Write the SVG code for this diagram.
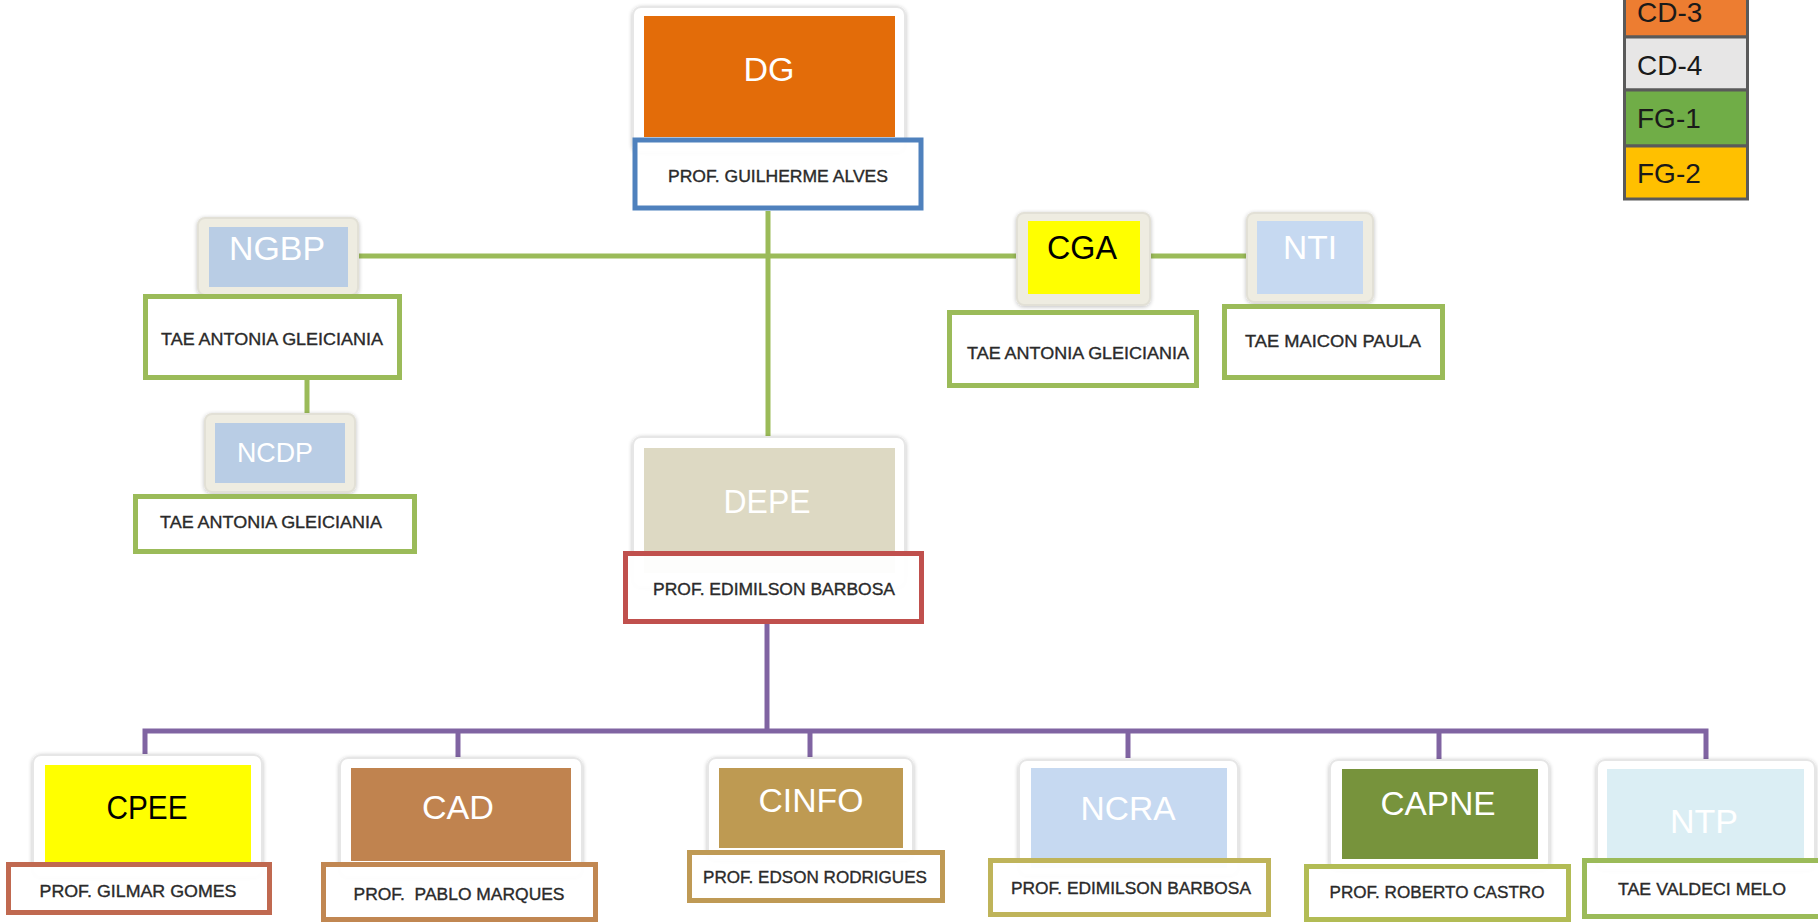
<svg xmlns="http://www.w3.org/2000/svg" width="1818" height="923" viewBox="0 0 1818 923">
<defs>
<filter id="sh" x="-10%" y="-10%" width="120%" height="130%">
<feGaussianBlur in="SourceAlpha" stdDeviation="2"/>
<feOffset dx="0" dy="1" result="b"/>
<feComponentTransfer><feFuncA type="linear" slope="0.25"/></feComponentTransfer>
<feMerge><feMergeNode/><feMergeNode in="SourceGraphic"/></feMerge>
</filter>
</defs>
<style>
.frame{fill:#ffffff;stroke:#e6e6e6;stroke-width:2;filter:url(#sh)}
.bframe{fill:#EEECE1;stroke:#e2e0d6;stroke-width:2;filter:url(#sh)}
.box{fill:#ffffff;fill-opacity:0.94;stroke-width:5}
.title{font-family:"Liberation Sans",Arial,sans-serif;font-size:34px;text-anchor:middle}
.w{fill:#ffffff}
.k{fill:#000000}
.lbl{font-family:"Liberation Sans",Arial,sans-serif;font-size:17px;fill:#2a2a2a;stroke:#2a2a2a;stroke-width:0.35;text-anchor:middle}
.gl{fill:none;stroke:#9BBB59;stroke-width:5}
.pl{fill:none;stroke:#8064A2;stroke-width:5}
.leg{stroke:#5a5a5a;stroke-width:3}
.legt{font-family:"Liberation Sans",Arial,sans-serif;font-size:28px;fill:#1a1a1a}
</style>
<rect width="1818" height="923" fill="#ffffff"/>

<g id="connectors">
<path class="gl" d="M768 211 V437"/>
<path class="gl" d="M358 256 H1017"/>
<path class="gl" d="M1150 256 H1247"/>
<path class="gl" d="M307 380 V414"/>
<path class="pl" d="M767 624 V731"/>
<path class="pl" d="M145 758 V731 H1706 V759"/>
<path class="pl" d="M458 731 V758"/>
<path class="pl" d="M810 731 V758"/>
<path class="pl" d="M1128 731 V758"/>
<path class="pl" d="M1439 731 V759"/>
</g>

<g id="legend">
<rect class="leg" x="1624.5" y="-17" width="123" height="54" fill="#ED7D31"/>
<text class="legt" x="1637" y="22">CD-3</text>
<rect class="leg" x="1624.5" y="37" width="123" height="53" fill="#E7E6E6"/>
<text class="legt" x="1637" y="75">CD-4</text>
<rect class="leg" x="1624.5" y="90" width="123" height="56" fill="#70AD47"/>
<text class="legt" x="1637" y="128">FG-1</text>
<rect class="leg" x="1624.5" y="146" width="123" height="53" fill="#FFC000"/>
<text class="legt" x="1637" y="183">FG-2</text>
</g>

<g id="node-dg">
<rect class="frame" x="633" y="7" width="272" height="145" rx="8"/>
<rect x="644" y="16" width="251" height="121" fill="#E36C09"/>
<text class="title w" x="769" y="81" textLength="51" lengthAdjust="spacingAndGlyphs">DG</text>
<rect class="box" x="635" y="140" width="286" height="68" stroke="#4F81BD" stroke-width="6"/>
<text class="lbl" x="778" y="182" textLength="220" lengthAdjust="spacingAndGlyphs">PROF. GUILHERME ALVES</text>
</g>

<g id="node-ngbp">
<rect class="bframe" x="198" y="218" width="160" height="77" rx="7"/>
<rect x="209" y="227" width="139" height="60" fill="#B9CDE5"/>
<text class="title w" x="277" y="260" textLength="96" lengthAdjust="spacingAndGlyphs">NGBP</text>
<rect class="box" x="145.5" y="296.5" width="254" height="81" stroke="#9BBB59"/>
<text class="lbl" x="272" y="345" textLength="222" lengthAdjust="spacingAndGlyphs">TAE ANTONIA GLEICIANIA</text>
</g>

<g id="node-ncdp">
<rect class="bframe" x="205" y="414" width="150" height="78" rx="7"/>
<rect x="215" y="423" width="130" height="60" fill="#B9CDE5"/>
<text class="title w" x="275" y="462" style="font-size:28px" textLength="76" lengthAdjust="spacingAndGlyphs">NCDP</text>
<rect class="box" x="135.5" y="496.5" width="279" height="55" stroke="#9BBB59"/>
<text class="lbl" x="271" y="528" textLength="222" lengthAdjust="spacingAndGlyphs">TAE ANTONIA GLEICIANIA</text>
</g>

<g id="node-cga">
<rect class="bframe" x="1017" y="213" width="133" height="92" rx="7"/>
<rect x="1028" y="221" width="112" height="73" fill="#FFFF00"/>
<text class="title k" x="1082" y="259" textLength="70" lengthAdjust="spacingAndGlyphs">CGA</text>
<rect class="box" x="949.5" y="312.5" width="247" height="73" stroke="#9BBB59"/>
<text class="lbl" x="1078" y="359" textLength="222" lengthAdjust="spacingAndGlyphs">TAE ANTONIA GLEICIANIA</text>
</g>

<g id="node-nti">
<rect class="bframe" x="1247" y="213" width="126" height="89" rx="7"/>
<rect x="1257" y="221" width="106" height="73" fill="#C6D9F1"/>
<text class="title w" x="1310" y="259" textLength="54" lengthAdjust="spacingAndGlyphs">NTI</text>
<rect class="box" x="1224.5" y="306.5" width="218" height="71" stroke="#9BBB59"/>
<text class="lbl" x="1333" y="347" textLength="176" lengthAdjust="spacingAndGlyphs">TAE MAICON PAULA</text>
</g>

<g id="node-depe">
<rect class="frame" x="633" y="437" width="272" height="150" rx="8"/>
<rect x="644" y="448" width="251" height="125" fill="#DDD9C3"/>
<text class="title w" x="767" y="513" textLength="87" lengthAdjust="spacingAndGlyphs">DEPE</text>
<rect class="box" x="625.5" y="553.5" width="296" height="68" stroke="#C0504D"/>
<text class="lbl" x="774" y="595" textLength="242" lengthAdjust="spacingAndGlyphs">PROF. EDIMILSON BARBOSA</text>
</g>

<g id="node-cpee">
<rect class="frame" x="33" y="755" width="229" height="122" rx="8"/>
<rect x="45" y="765" width="206" height="97" fill="#FFFF00"/>
<text class="title k" x="147" y="819" textLength="81" lengthAdjust="spacingAndGlyphs">CPEE</text>
<rect class="box" x="8.5" y="864.5" width="261" height="48" stroke="#C06950"/>
<text class="lbl" x="138" y="897" textLength="197" lengthAdjust="spacingAndGlyphs">PROF. GILMAR GOMES</text>
</g>

<g id="node-cad">
<rect class="frame" x="340" y="758" width="242" height="119" rx="8"/>
<rect x="351" y="768" width="220" height="93" fill="#C0834F"/>
<text class="title w" x="458" y="819" textLength="72" lengthAdjust="spacingAndGlyphs">CAD</text>
<rect class="box" x="323.5" y="864.5" width="272" height="55" stroke="#C18752"/>
<text class="lbl" x="459" y="900" textLength="211" lengthAdjust="spacingAndGlyphs" xml:space="preserve">PROF.  PABLO MARQUES</text>
</g>

<g id="node-cinfo">
<rect class="frame" x="708" y="758" width="205" height="102" rx="8"/>
<rect x="719" y="768" width="184" height="80" fill="#BE9A52"/>
<text class="title w" x="811" y="812" textLength="105" lengthAdjust="spacingAndGlyphs">CINFO</text>
<rect class="box" x="689.5" y="852.5" width="253" height="48" stroke="#BF9A55"/>
<text class="lbl" x="815" y="883" textLength="224" lengthAdjust="spacingAndGlyphs">PROF. EDSON RODRIGUES</text>
</g>

<g id="node-ncra">
<rect class="frame" x="1019" y="760" width="219" height="115" rx="8"/>
<rect x="1031" y="768" width="196" height="100" fill="#C6D9F1"/>
<text class="title w" x="1128" y="820" textLength="95" lengthAdjust="spacingAndGlyphs">NCRA</text>
<rect class="box" x="990.5" y="860.5" width="278" height="54" stroke="#BFB45A"/>
<text class="lbl" x="1131" y="894" textLength="240" lengthAdjust="spacingAndGlyphs">PROF. EDIMILSON BARBOSA</text>
</g>

<g id="node-capne">
<rect class="frame" x="1330" y="760" width="219" height="110" rx="8"/>
<rect x="1342" y="769" width="196" height="90" fill="#77933C"/>
<text class="title w" x="1438" y="815" textLength="115" lengthAdjust="spacingAndGlyphs">CAPNE</text>
<rect class="box" x="1306.5" y="866.5" width="262" height="53" stroke="#B2BC55"/>
<text class="lbl" x="1437" y="898" textLength="215" lengthAdjust="spacingAndGlyphs">PROF. ROBERTO CASTRO</text>
</g>

<g id="node-ntp">
<rect class="frame" x="1597" y="760" width="218" height="110" rx="8"/>
<rect x="1607" y="769" width="197" height="89" fill="#DBEEF4"/>
<text class="title w" x="1704" y="833" textLength="68" lengthAdjust="spacingAndGlyphs">NTP</text>
<rect class="box" x="1584.5" y="860.5" width="236" height="56" stroke="#9BBB59"/>
<text class="lbl" x="1702" y="895" textLength="168" lengthAdjust="spacingAndGlyphs">TAE VALDECI MELO</text>
</g>
</svg>
